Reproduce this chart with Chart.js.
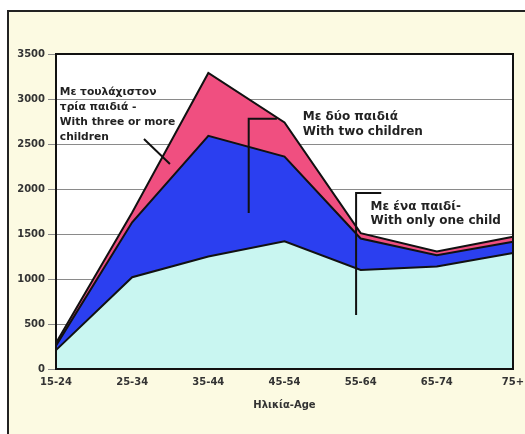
<!DOCTYPE html>
<html>
<head>
<meta charset="utf-8">
<script src="https://cdn.jsdelivr.net/npm/chart.js@4.4.0/dist/chart.umd.min.js"></script>
<style>
  body { margin: 0; background: #fff; }
  #frame {
    position: absolute; left: 7px; top: 10px; width: 530px; height: 440px;
    border-left: 2px solid #222; border-top: 2px solid #222;
    background: #fcfae2;
  }
  #c { position: absolute; left: 0; top: 0; }
</style>
</head>
<body>
<div id="frame"></div>
<canvas id="c" width="525" height="434"></canvas>
<script>
const ageGroups = ['15-24', '25-34', '35-44', '45-54', '55-64', '65-74', '75+'];
// stacked values
const oneChild = [210, 1020, 1250, 1420, 1100, 1140, 1290];
const twoChildren = [50, 610, 1340, 940, 350, 125, 125];
const threeOrMore = [30, 110, 700, 380, 60, 40, 55];

const labelThree = ['Με τουλάχιστον', 'τρία παιδιά -', 'With three or more', 'children'];
const labelTwo = ['Με δύο παιδιά', 'With two children'];
const labelOne = ['Με ένα παιδί-', 'With only one child'];

const fontFamily = '"DejaVu Sans", sans-serif';

// white plot background, black box, call-out texts and pointer lines
const decorPlugin = {
    id: 'decor',
    beforeDraw(chart) {
        const {ctx, chartArea: a} = chart;
        ctx.save();
        ctx.fillStyle = '#ffffff';
        ctx.fillRect(a.left, a.top, a.right - a.left, a.bottom - a.top);
        ctx.restore();
    },
    afterDraw(chart) {
        const {ctx, chartArea: a, scales: {x, y}} = chart;
        ctx.save();
        ctx.strokeStyle = '#111';
        ctx.lineWidth = 2;
        ctx.strokeRect(a.left, a.top, a.right - a.left, a.bottom - a.top);

        const px = v => x.getPixelForValue(v);
        const py = v => y.getPixelForValue(v);

        ctx.lineWidth = 2;
        ctx.beginPath();
        ctx.moveTo(px(1.155), py(2556));
        ctx.lineTo(px(1.496), py(2278));
        ctx.moveTo(px(2.53), py(1733));
        ctx.lineTo(px(2.53), py(2780));
        ctx.lineTo(px(2.90), py(2780));
        ctx.moveTo(px(3.94), py(600));
        ctx.lineTo(px(3.94), py(1956));
        ctx.lineTo(px(4.27), py(1956));
        ctx.stroke();

        ctx.fillStyle = '#222';
        ctx.textBaseline = 'middle';
        ctx.textAlign = 'left';
        const block = (lines, xi, yv, step) => {
            lines.forEach((t, i) => ctx.fillText(t, px(xi), py(yv) + i * step));
        };
        ctx.font = 'bold 10.7px ' + fontFamily;
        block(labelThree, 0.05, 3078, 15);
        ctx.font = 'bold 12px ' + fontFamily;
        block(labelTwo, 3.24, 2800, 15);
        block(labelOne, 4.13, 1800, 14);
        ctx.restore();
    }
};

new Chart(document.getElementById('c'), {
    type: 'line',
    data: {
        labels: ageGroups,
        datasets: [{
            label: 'Με ένα παιδί',
            data: oneChild,
            backgroundColor: '#c9f6f1',
            borderColor: '#111',
            borderWidth: 2,
            fill: 'origin',
            pointRadius: 0,
            tension: 0
        }, {
            label: 'Με δύο παιδιά',
            data: twoChildren,
            backgroundColor: '#2b3ff0',
            borderColor: '#111',
            borderWidth: 2,
            fill: '-1',
            pointRadius: 0,
            tension: 0
        }, {
            label: 'Με τουλάχιστον τρία παιδιά',
            data: threeOrMore,
            backgroundColor: '#f04f80',
            borderColor: '#111',
            borderWidth: 2,
            fill: '-1',
            pointRadius: 0,
            tension: 0
        }]
    },
    options: {
        responsive: false,
        animation: false,
        layout: { padding: { left: 0, top: 54, right: 0, bottom: 0 } },
        plugins: {
            legend: { display: false },
            tooltip: { enabled: false }
        },
        scales: {
            x: {
                grid: { display: false, drawTicks: false },
                border: { color: '#111', width: 2 },
                ticks: {
                    padding: 7,
                    color: '#333',
                    font: { family: fontFamily, size: 10, weight: 'bold' },
                    maxRotation: 0
                },
                title: {
                    display: true,
                    text: 'Ηλικία-Age',
                    color: '#333',
                    font: { family: fontFamily, size: 10, weight: 'bold' },
                    padding: { top: 0, bottom: 23 }
                },
                afterFit(scale) {
                    scale.height = 65;
                    scale.paddingRight = 12;
                    scale.paddingLeft = 0;
                }
            },
            y: {
                stacked: true,
                min: 0,
                max: 3500,
                ticks: {
                    stepSize: 500,
                    padding: 3,
                    color: '#333',
                    font: { family: fontFamily, size: 10, weight: 'bold' },
                    callback: v => String(v)
                },
                grid: {
                    color: '#8a8a8a',
                    lineWidth: 1,
                    tickLength: 8
                },
                border: { color: '#111', width: 2 },
                afterFit(scale) { scale.width = 56; }
            }
        }
    },
    plugins: [decorPlugin]
});
</script>
</body>
</html>
